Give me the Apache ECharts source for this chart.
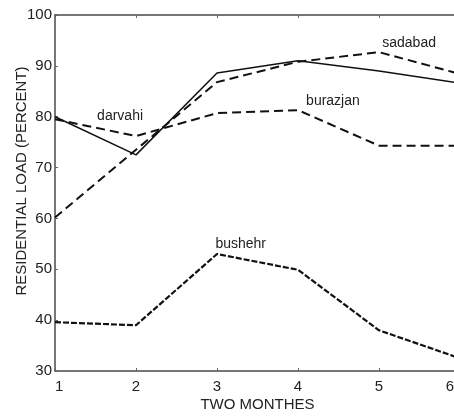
<!DOCTYPE html>
<html lang="en">
<head>
    <meta charset="UTF-8">
    <title>Residential load</title>
    <script type="text/javascript" src="https://cdn.jsdelivr.net/npm/echarts@6/dist/echarts.min.js"></script>
    <style>
        html, body { margin:0; padding:0; background:#fff; }
    </style>
</head>
<body>
<div id="main" style="width:454px;height:419px;"></div>
<script type="text/javascript">
    // two-month periods
    var months = [1, 2, 3, 4, 5, 6];
    var darvahi = [80, 72.5, 88.6, 91, 89, 86.6];
    var burazjan = [79.5, 76.2, 80.7, 81.3, 74.3, 74.3];
    var sadabad = [60.2, 73.5, 86.8, 90.8, 92.7, 88.4];
    var bushehr = [39.6, 39.0, 53.0, 49.9, 38.0, 32.5];
    var yTicks = [30, 40, 50, 60, 70, 80, 90, 100];
    // where each name is written, in data coords
    var labels = [
        {text:'darvahi', x:1.52, y:80.2},
        {text:'burazjan', x:4.1, y:83.0},
        {text:'sadabad', x:5.04, y:94.4},
        {text:'bushehr', x:2.98, y:55.0}
    ];

    function pairs(ys){
        var out = [];
        for(var i=0;i<months.length;i++){
            out.push([months[i], ys[i]]);
        }
        return out;
    }

    var font = 'Liberation Sans, Arial, sans-serif';
    var axisLine = {lineStyle:{color:'#4a4a4a', width:1.5}};
    var ticks = {inside:true, length:3, lineStyle:{color:'#666'}};

    var myChart = echarts.init(document.getElementById('main'));
    var option = {
        backgroundColor:'#fff',
        animation:false,
        grid:{left:55, top:15, width:405, height:356, outerBoundsMode:'none', containLabel:false},
        xAxis:[{
            type:'value',
            min:months[0],
            max:months[months.length-1],
            interval:1,
            name:'TWO MONTHES',
            nameLocation:'middle',
            nameGap:26,
            nameMoveOverlap:false,
            nameTextStyle:{fontFamily:font, fontSize:15, color:'#222'},
            axisLine:axisLine,
            axisTick:ticks,
            axisLabel:{
                fontFamily:font, fontSize:15, color:'#222', margin:8,
                alignMinLabel:'left', alignMaxLabel:'right',
                formatter:function(v){ return v==months[months.length-1] ? '{e|'+v+'}' : ''+v; },
                rich:{e:{fontFamily:font, fontSize:15, color:'#222', padding:[0,6,0,0]}}
            },
            splitLine:{show:false}
        },{
            type:'value',
            position:'top',
            min:months[0],
            max:months[months.length-1],
            interval:1,
            axisLine:axisLine,
            axisTick:ticks,
            axisLabel:{show:false},
            splitLine:{show:false}
        }],
        yAxis:{
            type:'value',
            min:yTicks[0],
            max:yTicks[yTicks.length-1],
            interval:10,
            name:'RESIDENTIAL LOAD (PERCENT)',
            nameLocation:'middle',
            nameGap:26,
            nameMoveOverlap:false,
            nameTextStyle:{fontFamily:font, fontSize:15, color:'#222', padding:[0,0,0,24]},
            axisLine:axisLine,
            axisTick:ticks,
            axisLabel:{fontFamily:font, fontSize:15, color:'#222', margin:3},
            splitLine:{show:false}
        },
        series:[{
            name:'darvahi',
            type:'line',
            symbol:'none',
            lineStyle:{color:'#111', width:1.5, type:'solid'},
            data:pairs(darvahi)
        },{
            name:'burazjan',
            type:'line',
            symbol:'none',
            lineStyle:{color:'#111', width:2, type:[9,5]},
            data:pairs(burazjan)
        },{
            name:'sadabad',
            type:'line',
            symbol:'none',
            lineStyle:{color:'#111', width:2, type:[9,5]},
            data:pairs(sadabad)
        },{
            name:'bushehr',
            type:'line',
            symbol:'none',
            lineStyle:{color:'#111', width:2.2, type:[6,2]},
            data:pairs(bushehr)
        }]
    };
    myChart.setOption(option);

    var graphics = [];
    for(var i=0;i<labels.length;i++){
        var p = myChart.convertToPixel({gridIndex:0}, [labels[i].x, labels[i].y]);
        graphics.push({
            type:'text',
            x:p[0],
            y:p[1],
            style:{text:labels[i].text, fontFamily:font, fontSize:14, fill:'#222', align:'left', verticalAlign:'middle'}
        });
    }
    myChart.setOption({graphic:graphics});
</script>
</body>
</html>
